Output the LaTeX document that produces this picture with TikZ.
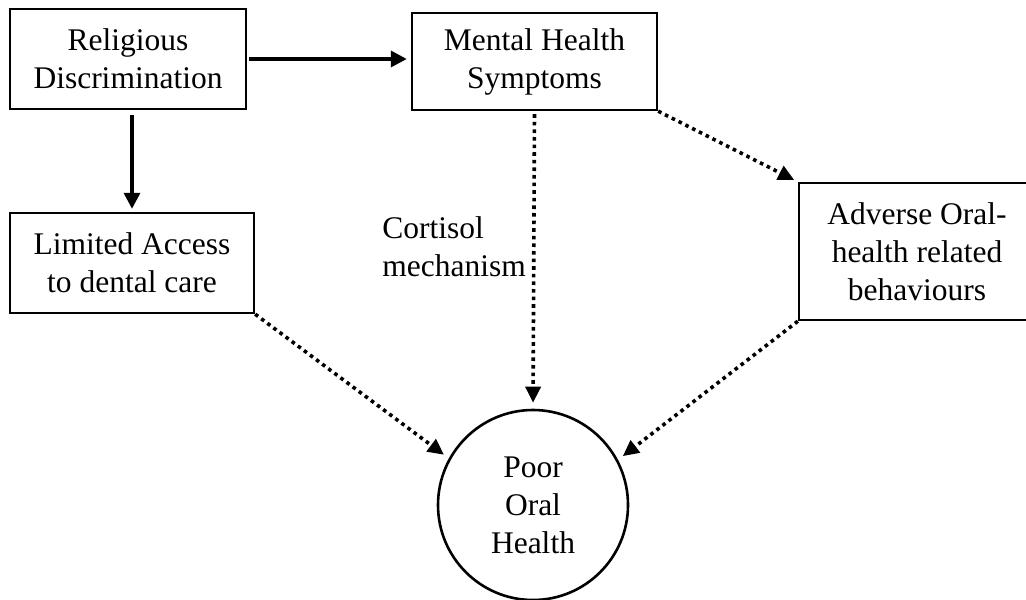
\documentclass[tikz,border=0pt]{standalone}
\usepackage{fontspec}
\setmainfont{Liberation Serif}
\usetikzlibrary{arrows.meta}
\begin{document}
\begin{tikzpicture}[x=0.5pt,y=-0.5pt,
  every node/.style={font=\fontsize{15.75}{19}\selectfont},
  box/.style={draw, line width=1.2pt, align=center, inner sep=0pt},
  solidarrow/.style={line width=1.7pt, -{Triangle[length=8pt,width=8pt]}},
  dotarrow/.style={line width=1.8pt, dash pattern=on 1.8pt off 2pt,
                   -{Triangle[length=8pt,width=7.5pt]}}]
\useasboundingbox (0,0) rectangle (1026,599);
\clip (0,0) rectangle (1026,599);

% boxes
\node[box, minimum width=118pt, minimum height=50pt] (rd) at (128,59) {Religious\\Discrimination};
\node[box, minimum width=122.5pt, minimum height=48.5pt] (mh) at (534.5,61.5) {Mental Health\\Symptoms};
\node[box, minimum width=122pt, minimum height=50pt] (la) at (132,263) {Limited Access\\to dental care};
\node[box, minimum width=118pt, minimum height=68.5pt] (ad) at (917,251.5) {Adverse Oral-\\health related\\behaviours};
\node[draw, circle, line width=1.3pt, minimum size=95pt, inner sep=0pt, align=center] (po) at (533,505) {Poor\\Oral\\Health};

% label beside the cortisol path
\node[anchor=north west, inner sep=0pt, align=left] (cm) at (382,216) {Cortisol\\mechanism};

% solid paths
\draw[solidarrow, shorten <=1pt, shorten >=2pt] (rd.east) -- (rd.east -| mh.west);
\draw[solidarrow, shorten <=2.5pt, shorten >=1.5pt] (rd.south -| la.north) -- (la.north);

% dotted paths
\draw[dotarrow, shorten <=1.5pt, shorten >=3pt] (mh.south) -- (po.north);
\draw[dotarrow, shorten >=2pt] (mh.south east) -- (ad.north west);
\draw[dotarrow, shorten >=3pt] (la.south east) -- (po.151);
\draw[dotarrow, shorten >=3pt] (ad.south west) -- (po.28);
\end{tikzpicture}
\end{document}
